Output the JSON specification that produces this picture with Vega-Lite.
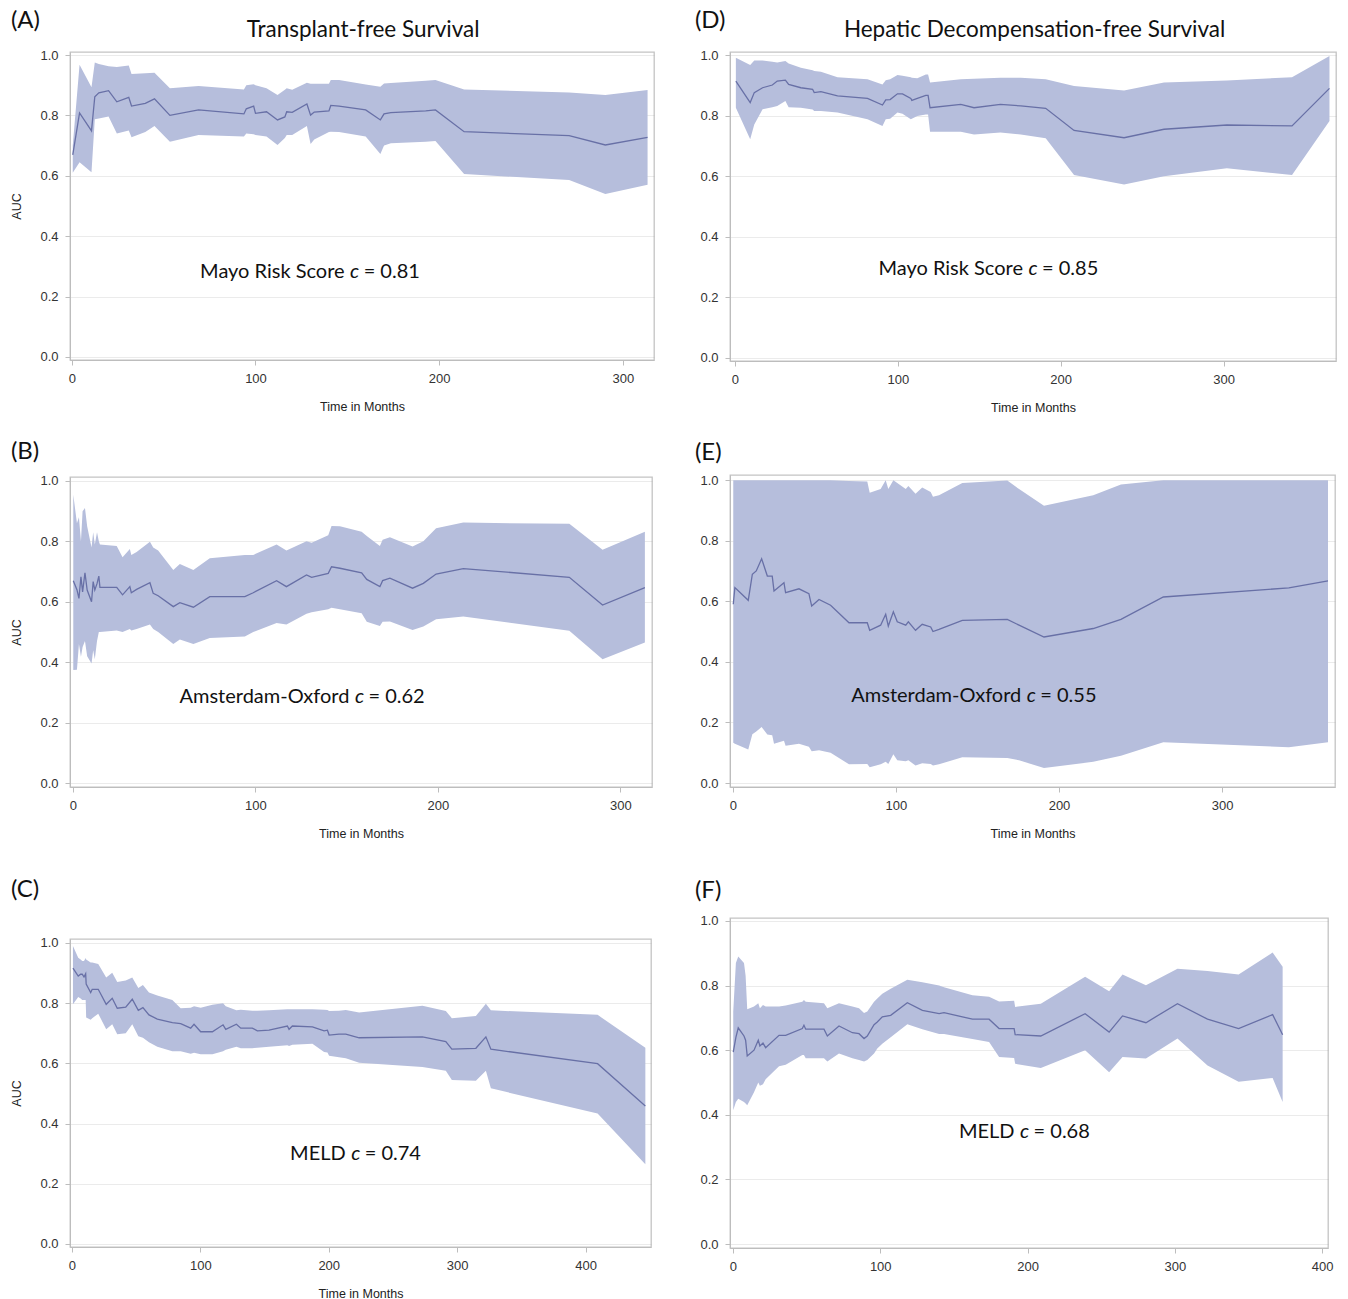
{
"$schema": "https://vega.github.io/schema/vega-lite/v6.json",
"padding": {"left": 10, "top": 8, "right": 5, "bottom": 2},
"background": "white",
"config": {
 "view": {"stroke": "#c4c4c4", "strokeWidth": 1.3},
 "axis": {"domainColor": "#bdbdbd", "tickColor": "#bdbdbd", "gridColor": "#9a9a9a", "gridOpacity": 0.2, "labelFont": "Liberation Sans", "labelFontSize": 13, "labelColor": "#333333", "titleFont": "Liberation Sans", "titleFontSize": 12.5, "titleFontWeight": "normal", "titleColor": "#222222", "tickSize": 5, "zindex": 1},
 "axisX": {"grid": false, "labelPadding": 7, "titlePadding": 15},
 "axisY": {"labelPadding": 7, "titlePadding": 16},
 "title": {"font": "Lato", "fontSize": 24, "fontWeight": "normal", "color": "#111111", "anchor": "start", "frame": "bounds"},
 "text": {"font": "Lato", "fontSize": 20, "color": "#111111"}
},
"datasets": {
 "A": [
  {"t":0.5,"auc":0.669,"lo":0.61,"hi":0.70},{"t":4.2,"auc":0.808,"lo":0.645,"hi":0.968},{"t":10.7,"auc":0.749,"lo":0.612,"hi":0.893},{"t":12.5,"auc":0.862,"lo":0.787,"hi":0.975},{"t":14.7,"auc":0.875,"lo":0.79,"hi":0.97},{"t":20,"auc":0.882,"lo":0.796,"hi":0.963},{"t":24.5,"auc":0.845,"lo":0.74,"hi":0.96},{"t":31,"auc":0.86,"lo":0.75,"hi":0.965},{"t":32.5,"auc":0.831,"lo":0.728,"hi":0.937},{"t":40,"auc":0.84,"lo":0.745,"hi":0.94},{"t":45,"auc":0.855,"lo":0.765,"hi":0.941},{"t":53.4,"auc":0.80,"lo":0.713,"hi":0.89},{"t":69,"auc":0.818,"lo":0.735,"hi":0.897},{"t":93.7,"auc":0.805,"lo":0.73,"hi":0.886},{"t":95,"auc":0.822,"lo":0.74,"hi":0.90},{"t":99,"auc":0.831,"lo":0.738,"hi":0.903},{"t":100,"auc":0.807,"lo":0.735,"hi":0.90},{"t":106,"auc":0.812,"lo":0.73,"hi":0.89},{"t":112,"auc":0.785,"lo":0.702,"hi":0.868},{"t":116,"auc":0.795,"lo":0.725,"hi":0.885},{"t":117,"auc":0.812,"lo":0.735,"hi":0.89},{"t":120,"auc":0.81,"lo":0.735,"hi":0.885},{"t":128,"auc":0.838,"lo":0.765,"hi":0.908},{"t":130,"auc":0.801,"lo":0.705,"hi":0.905},{"t":132,"auc":0.811,"lo":0.72,"hi":0.905},{"t":140,"auc":0.815,"lo":0.745,"hi":0.905},{"t":141,"auc":0.833,"lo":0.746,"hi":0.917},{"t":145.5,"auc":0.831,"lo":0.745,"hi":0.917},{"t":160,"auc":0.818,"lo":0.73,"hi":0.902},{"t":168,"auc":0.785,"lo":0.672,"hi":0.895},{"t":170,"auc":0.805,"lo":0.70,"hi":0.906},{"t":173.7,"auc":0.809,"lo":0.708,"hi":0.907},{"t":192.7,"auc":0.815,"lo":0.713,"hi":0.915},{"t":198,"auc":0.818,"lo":0.715,"hi":0.917},{"t":213.6,"auc":0.746,"lo":0.606,"hi":0.886},{"t":270.8,"auc":0.733,"lo":0.586,"hi":0.876},{"t":290.5,"auc":0.702,"lo":0.54,"hi":0.868},{"t":313.5,"auc":0.727,"lo":0.57,"hi":0.884}
 ],
 "D": [
  {"t":0.6,"auc":0.914,"lo":0.826,"hi":0.991},{"t":9.4,"auc":0.843,"lo":0.722,"hi":0.967},{"t":11.9,"auc":0.876,"lo":0.771,"hi":0.982},{"t":17,"auc":0.892,"lo":0.821,"hi":0.982},{"t":23,"auc":0.901,"lo":0.828,"hi":0.978},{"t":26,"auc":0.914,"lo":0.832,"hi":0.975},{"t":31,"auc":0.917,"lo":0.848,"hi":0.98},{"t":33,"auc":0.903,"lo":0.828,"hi":0.972},{"t":40.5,"auc":0.892,"lo":0.826,"hi":0.958},{"t":47.7,"auc":0.887,"lo":0.82,"hi":0.95},{"t":48.7,"auc":0.876,"lo":0.815,"hi":0.947},{"t":52.8,"auc":0.879,"lo":0.815,"hi":0.945},{"t":63,"auc":0.865,"lo":0.81,"hi":0.927},{"t":81.4,"auc":0.857,"lo":0.788,"hi":0.92},{"t":90.6,"auc":0.835,"lo":0.766,"hi":0.903},{"t":92.6,"auc":0.852,"lo":0.788,"hi":0.917},{"t":95.3,"auc":0.853,"lo":0.79,"hi":0.92},{"t":99.8,"auc":0.872,"lo":0.81,"hi":0.934},{"t":102.9,"auc":0.872,"lo":0.806,"hi":0.932},{"t":108,"auc":0.857,"lo":0.788,"hi":0.927},{"t":108.6,"auc":0.85,"lo":0.79,"hi":0.925},{"t":112,"auc":0.857,"lo":0.799,"hi":0.923},{"t":117.2,"auc":0.867,"lo":0.804,"hi":0.936},{"t":118.6,"auc":0.867,"lo":0.804,"hi":0.936},{"t":119.8,"auc":0.826,"lo":0.747,"hi":0.909},{"t":138.7,"auc":0.837,"lo":0.747,"hi":0.92},{"t":146.8,"auc":0.826,"lo":0.738,"hi":0.922},{"t":163,"auc":0.837,"lo":0.744,"hi":0.925},{"t":175.5,"auc":0.832,"lo":0.738,"hi":0.925},{"t":190.8,"auc":0.824,"lo":0.725,"hi":0.92},{"t":208.2,"auc":0.751,"lo":0.604,"hi":0.898},{"t":238.9,"auc":0.727,"lo":0.573,"hi":0.883},{"t":263.4,"auc":0.755,"lo":0.60,"hi":0.909},{"t":302,"auc":0.769,"lo":0.626,"hi":0.916},{"t":342,"auc":0.766,"lo":0.604,"hi":0.927},{"t":365,"auc":0.89,"lo":0.782,"hi":0.997}
 ],
 "B": [
  {"t":0.2,"auc":0.67,"lo":0.374,"hi":0.954},{"t":2.2,"auc":0.64,"lo":0.375,"hi":0.86},{"t":3.3,"auc":0.611,"lo":0.46,"hi":0.88},{"t":4.4,"auc":0.683,"lo":0.418,"hi":0.80},{"t":5.3,"auc":0.633,"lo":0.45,"hi":0.90},{"t":6.6,"auc":0.696,"lo":0.47,"hi":0.91},{"t":7.8,"auc":0.639,"lo":0.42,"hi":0.85},{"t":10.2,"auc":0.60,"lo":0.396,"hi":0.78},{"t":11.1,"auc":0.667,"lo":0.44,"hi":0.83},{"t":12,"auc":0.639,"lo":0.41,"hi":0.79},{"t":13.2,"auc":0.66,"lo":0.47,"hi":0.83},{"t":14.2,"auc":0.685,"lo":0.50,"hi":0.80},{"t":14.8,"auc":0.648,"lo":0.50,"hi":0.79},{"t":24,"auc":0.648,"lo":0.505,"hi":0.785},{"t":27.2,"auc":0.623,"lo":0.50,"hi":0.747},{"t":31.2,"auc":0.65,"lo":0.51,"hi":0.775},{"t":32,"auc":0.63,"lo":0.505,"hi":0.755},{"t":34.9,"auc":0.641,"lo":0.51,"hi":0.765},{"t":42.2,"auc":0.663,"lo":0.525,"hi":0.799},{"t":44,"auc":0.628,"lo":0.51,"hi":0.78},{"t":46.7,"auc":0.62,"lo":0.50,"hi":0.77},{"t":55,"auc":0.584,"lo":0.46,"hi":0.705},{"t":58.6,"auc":0.597,"lo":0.475,"hi":0.725},{"t":66,"auc":0.582,"lo":0.46,"hi":0.705},{"t":75,"auc":0.617,"lo":0.48,"hi":0.744},{"t":94.2,"auc":0.617,"lo":0.485,"hi":0.755},{"t":98.8,"auc":0.63,"lo":0.50,"hi":0.755},{"t":111.6,"auc":0.67,"lo":0.53,"hi":0.79},{"t":117,"auc":0.65,"lo":0.525,"hi":0.77},{"t":128,"auc":0.689,"lo":0.56,"hi":0.80},{"t":130.8,"auc":0.681,"lo":0.565,"hi":0.795},{"t":139.9,"auc":0.694,"lo":0.575,"hi":0.82},{"t":141.7,"auc":0.716,"lo":0.58,"hi":0.851},{"t":146.3,"auc":0.711,"lo":0.575,"hi":0.85},{"t":158.2,"auc":0.696,"lo":0.562,"hi":0.832},{"t":161,"auc":0.674,"lo":0.534,"hi":0.818},{"t":168.2,"auc":0.65,"lo":0.52,"hi":0.785},{"t":169.7,"auc":0.67,"lo":0.534,"hi":0.805},{"t":173.7,"auc":0.678,"lo":0.535,"hi":0.814},{"t":186.1,"auc":0.645,"lo":0.507,"hi":0.783},{"t":192,"auc":0.661,"lo":0.518,"hi":0.80},{"t":199,"auc":0.692,"lo":0.542,"hi":0.843},{"t":213.9,"auc":0.71,"lo":0.551,"hi":0.862},{"t":272,"auc":0.681,"lo":0.504,"hi":0.858},{"t":290.2,"auc":0.589,"lo":0.41,"hi":0.772},{"t":313.4,"auc":0.647,"lo":0.465,"hi":0.832}
 ],
 "E": [
  {"t":0.2,"auc":0.59,"lo":0.133,"hi":0.999},{"t":1.2,"auc":0.645,"lo":0.13,"hi":0.999},{"t":9.4,"auc":0.603,"lo":0.111,"hi":0.999},{"t":11.9,"auc":0.689,"lo":0.161,"hi":0.999},{"t":14.3,"auc":0.70,"lo":0.17,"hi":0.999},{"t":17.6,"auc":0.74,"lo":0.185,"hi":0.999},{"t":21.1,"auc":0.683,"lo":0.16,"hi":0.999},{"t":24.1,"auc":0.683,"lo":0.158,"hi":0.999},{"t":25.2,"auc":0.634,"lo":0.13,"hi":0.999},{"t":31.3,"auc":0.661,"lo":0.14,"hi":0.999},{"t":32.3,"auc":0.628,"lo":0.123,"hi":0.999},{"t":40.5,"auc":0.641,"lo":0.13,"hi":0.999},{"t":46.6,"auc":0.625,"lo":0.12,"hi":0.999},{"t":48.3,"auc":0.584,"lo":0.105,"hi":0.999},{"t":52.8,"auc":0.606,"lo":0.108,"hi":0.999},{"t":59.9,"auc":0.587,"lo":0.10,"hi":0.999},{"t":71.2,"auc":0.529,"lo":0.062,"hi":0.997},{"t":82.4,"auc":0.529,"lo":0.063,"hi":0.995},{"t":83.9,"auc":0.504,"lo":0.052,"hi":0.958},{"t":90.6,"auc":0.521,"lo":0.062,"hi":0.97},{"t":93.7,"auc":0.557,"lo":0.07,"hi":0.999},{"t":95.3,"auc":0.518,"lo":0.063,"hi":0.97},{"t":98.4,"auc":0.565,"lo":0.095,"hi":0.999},{"t":100.8,"auc":0.532,"lo":0.075,"hi":0.99},{"t":106,"auc":0.521,"lo":0.072,"hi":0.97},{"t":107.6,"auc":0.532,"lo":0.075,"hi":0.98},{"t":112,"auc":0.504,"lo":0.058,"hi":0.955},{"t":116.1,"auc":0.524,"lo":0.065,"hi":0.975},{"t":121.3,"auc":0.515,"lo":0.063,"hi":0.96},{"t":122.7,"auc":0.50,"lo":0.058,"hi":0.945},{"t":126.4,"auc":0.507,"lo":0.062,"hi":0.95},{"t":140.7,"auc":0.537,"lo":0.085,"hi":0.99},{"t":168.3,"auc":0.54,"lo":0.083,"hi":0.998},{"t":175.5,"auc":0.521,"lo":0.075,"hi":0.97},{"t":190.8,"auc":0.482,"lo":0.05,"hi":0.915},{"t":221,"auc":0.51,"lo":0.07,"hi":0.95},{"t":238,"auc":0.54,"lo":0.09,"hi":0.985},{"t":264,"auc":0.614,"lo":0.135,"hi":0.999},{"t":341,"auc":0.644,"lo":0.118,"hi":0.999},{"t":365,"auc":0.667,"lo":0.135,"hi":0.999}
 ],
 "C": [
  {"t":0.8,"auc":0.916,"lo":0.796,"hi":0.99},{"t":4.9,"auc":0.89,"lo":0.82,"hi":0.951},{"t":6.8,"auc":0.896,"lo":0.815,"hi":0.945},{"t":8,"auc":0.896,"lo":0.81,"hi":0.94},{"t":9.4,"auc":0.887,"lo":0.81,"hi":0.94},{"t":10.7,"auc":0.898,"lo":0.81,"hi":0.95},{"t":11.1,"auc":0.863,"lo":0.752,"hi":0.945},{"t":14.6,"auc":0.835,"lo":0.745,"hi":0.935},{"t":15.8,"auc":0.846,"lo":0.75,"hi":0.935},{"t":20.5,"auc":0.846,"lo":0.765,"hi":0.93},{"t":26.7,"auc":0.796,"lo":0.713,"hi":0.885},{"t":31.4,"auc":0.816,"lo":0.73,"hi":0.901},{"t":35.3,"auc":0.783,"lo":0.697,"hi":0.87},{"t":41.9,"auc":0.787,"lo":0.70,"hi":0.875},{"t":47,"auc":0.813,"lo":0.73,"hi":0.885},{"t":51.7,"auc":0.776,"lo":0.69,"hi":0.85},{"t":55.3,"auc":0.785,"lo":0.685,"hi":0.86},{"t":60,"auc":0.761,"lo":0.67,"hi":0.835},{"t":66.5,"auc":0.747,"lo":0.655,"hi":0.825},{"t":78.2,"auc":0.735,"lo":0.64,"hi":0.81},{"t":84.7,"auc":0.732,"lo":0.64,"hi":0.783},{"t":92.5,"auc":0.717,"lo":0.632,"hi":0.785},{"t":95.1,"auc":0.73,"lo":0.635,"hi":0.79},{"t":100.3,"auc":0.705,"lo":0.63,"hi":0.785},{"t":109.4,"auc":0.705,"lo":0.63,"hi":0.795},{"t":117.7,"auc":0.728,"lo":0.64,"hi":0.80},{"t":119.8,"auc":0.713,"lo":0.645,"hi":0.79},{"t":128.1,"auc":0.73,"lo":0.655,"hi":0.776},{"t":131.5,"auc":0.717,"lo":0.65,"hi":0.778},{"t":140.5,"auc":0.717,"lo":0.65,"hi":0.775},{"t":144.4,"auc":0.708,"lo":0.652,"hi":0.775},{"t":153.5,"auc":0.71,"lo":0.655,"hi":0.776},{"t":167.8,"auc":0.724,"lo":0.66,"hi":0.78},{"t":169.1,"auc":0.713,"lo":0.658,"hi":0.78},{"t":171.7,"auc":0.724,"lo":0.662,"hi":0.78},{"t":187.3,"auc":0.721,"lo":0.665,"hi":0.78},{"t":196.4,"auc":0.708,"lo":0.638,"hi":0.778},{"t":199,"auc":0.71,"lo":0.636,"hi":0.777},{"t":200.3,"auc":0.694,"lo":0.625,"hi":0.774},{"t":208,"auc":0.697,"lo":0.62,"hi":0.775},{"t":213.3,"auc":0.697,"lo":0.617,"hi":0.777},{"t":223.7,"auc":0.685,"lo":0.602,"hi":0.769},{"t":273,"auc":0.688,"lo":0.588,"hi":0.791},{"t":291.2,"auc":0.672,"lo":0.575,"hi":0.774},{"t":295.9,"auc":0.647,"lo":0.545,"hi":0.75},{"t":314.6,"auc":0.65,"lo":0.542,"hi":0.757},{"t":322.4,"auc":0.688,"lo":0.575,"hi":0.798},{"t":326.3,"auc":0.647,"lo":0.517,"hi":0.776},{"t":409.4,"auc":0.599,"lo":0.433,"hi":0.761},{"t":446.6,"auc":0.458,"lo":0.265,"hi":0.652}
 ],
 "F": [
  {"t":0.2,"auc":0.594,"lo":0.414,"hi":0.72},{"t":2,"auc":0.64,"lo":0.44,"hi":0.87},{"t":3.6,"auc":0.669,"lo":0.45,"hi":0.89},{"t":7.5,"auc":0.644,"lo":0.44,"hi":0.87},{"t":8.6,"auc":0.631,"lo":0.435,"hi":0.83},{"t":9.7,"auc":0.582,"lo":0.43,"hi":0.727},{"t":14.3,"auc":0.60,"lo":0.47,"hi":0.735},{"t":17.2,"auc":0.631,"lo":0.50,"hi":0.745},{"t":18.3,"auc":0.613,"lo":0.49,"hi":0.73},{"t":20.4,"auc":0.622,"lo":0.495,"hi":0.74},{"t":22.2,"auc":0.608,"lo":0.51,"hi":0.735},{"t":31.3,"auc":0.646,"lo":0.55,"hi":0.735},{"t":35.8,"auc":0.646,"lo":0.555,"hi":0.738},{"t":47.1,"auc":0.667,"lo":0.585,"hi":0.75},{"t":48.2,"auc":0.677,"lo":0.585,"hi":0.755},{"t":49.4,"auc":0.665,"lo":0.575,"hi":0.75},{"t":61.8,"auc":0.665,"lo":0.575,"hi":0.745},{"t":64.1,"auc":0.644,"lo":0.565,"hi":0.73},{"t":72,"auc":0.675,"lo":0.59,"hi":0.745},{"t":81.1,"auc":0.654,"lo":0.575,"hi":0.735},{"t":85.6,"auc":0.651,"lo":0.57,"hi":0.73},{"t":89,"auc":0.636,"lo":0.565,"hi":0.715},{"t":91.2,"auc":0.644,"lo":0.57,"hi":0.72},{"t":95.8,"auc":0.679,"lo":0.59,"hi":0.75},{"t":98,"auc":0.687,"lo":0.605,"hi":0.76},{"t":101.4,"auc":0.703,"lo":0.62,"hi":0.775},{"t":107.1,"auc":0.708,"lo":0.64,"hi":0.79},{"t":118.4,"auc":0.747,"lo":0.68,"hi":0.818},{"t":128.6,"auc":0.723,"lo":0.665,"hi":0.81},{"t":140,"auc":0.713,"lo":0.65,"hi":0.80},{"t":143.3,"auc":0.716,"lo":0.65,"hi":0.795},{"t":162.6,"auc":0.696,"lo":0.635,"hi":0.77},{"t":173.9,"auc":0.696,"lo":0.625,"hi":0.765},{"t":180.7,"auc":0.667,"lo":0.579,"hi":0.751},{"t":190.9,"auc":0.667,"lo":0.576,"hi":0.753},{"t":191.6,"auc":0.648,"lo":0.558,"hi":0.734},{"t":209,"auc":0.644,"lo":0.545,"hi":0.744},{"t":239.1,"auc":0.713,"lo":0.60,"hi":0.827},{"t":255.4,"auc":0.656,"lo":0.532,"hi":0.782},{"t":264.5,"auc":0.706,"lo":0.579,"hi":0.834},{"t":280.4,"auc":0.685,"lo":0.574,"hi":0.801},{"t":301.8,"auc":0.744,"lo":0.636,"hi":0.852},{"t":322.2,"auc":0.696,"lo":0.553,"hi":0.845},{"t":343.3,"auc":0.667,"lo":0.502,"hi":0.834},{"t":366.4,"auc":0.71,"lo":0.514,"hi":0.902},{"t":373.2,"auc":0.648,"lo":0.44,"hi":0.858}
 ]
},
"hconcat": [
 {"vconcat": [
  {"vconcat": [
   {"width": 584, "height": 308, "title": {"text": "(A)", "offset": -14},
    "layer": [
     {"data": {"name": "A"}, "mark": {"type": "area", "color": "#b6bedc", "opacity": 1},
      "encoding": {"x": {"field": "t", "type": "quantitative", "scale": {"domain": [-1, 317], "nice": false, "zero": false}, "axis": {"values": [0, 100, 200, 300], "title": "Time in Months"}},
       "y": {"field": "lo", "type": "quantitative", "scale": {"domain": [-0.01, 1.01], "nice": false}, "axis": {"values": [0, 0.2, 0.4, 0.6, 0.8, 1], "format": ".1f", "title": "AUC"}},
       "y2": {"field": "hi"}}},
     {"mark": {"type": "rule", "color": "#b8b8b8", "strokeWidth": 1.5}, "encoding": {"y": {"datum": 0.5}}},
     {"data": {"name": "A"}, "mark": {"type": "line", "color": "#6870a6", "strokeWidth": 1.3}, "encoding": {"x": {"field": "t", "type": "quantitative"}, "y": {"field": "auc", "type": "quantitative"}}},
     {"data": {"values": [{"label": "Mayo Risk Score", "val": "= 0.81", "xc": 154, "y": 0.28}]},
      "layer": [
       {"mark": {"type": "text", "align": "right", "dx": -10}, "encoding": {"x": {"field": "xc", "type": "quantitative"}, "y": {"field": "y", "type": "quantitative"}, "text": {"field": "label"}}},
       {"mark": {"type": "text", "align": "center", "fontStyle": "italic"}, "encoding": {"x": {"field": "xc", "type": "quantitative"}, "y": {"field": "y", "type": "quantitative"}, "text": {"value": "c"}}},
       {"mark": {"type": "text", "align": "left", "dx": 9}, "encoding": {"x": {"field": "xc", "type": "quantitative"}, "y": {"field": "y", "type": "quantitative"}, "text": {"field": "val"}}}
      ]},
     {"data": {"values": [{"head": "Transplant-free Survival", "x": 158.6, "y": 1.083}]},
      "mark": {"type": "text", "align": "center", "fontSize": 22.5}, "encoding": {"x": {"field": "x", "type": "quantitative"}, "y": {"field": "y", "type": "quantitative"}, "text": {"field": "head"}}}
    ]},
   {"width": 582, "height": 310, "title": {"text": "(B)", "offset": 11},
    "layer": [
     {"data": {"name": "B"}, "mark": {"type": "area", "color": "#b6bedc", "opacity": 1},
      "encoding": {"x": {"field": "t", "type": "quantitative", "scale": {"domain": [-1.6, 317.3], "nice": false, "zero": false}, "axis": {"values": [0, 100, 200, 300], "title": "Time in Months"}},
       "y": {"field": "lo", "type": "quantitative", "scale": {"domain": [-0.013, 1.013], "nice": false}, "axis": {"values": [0, 0.2, 0.4, 0.6, 0.8, 1], "format": ".1f", "title": "AUC"}},
       "y2": {"field": "hi"}}},
     {"mark": {"type": "rule", "color": "#b8b8b8", "strokeWidth": 1.5}, "encoding": {"y": {"datum": 0.5}}},
     {"data": {"name": "B"}, "mark": {"type": "line", "color": "#6870a6", "strokeWidth": 1.3}, "encoding": {"x": {"field": "t", "type": "quantitative"}, "y": {"field": "auc", "type": "quantitative"}}},
     {"data": {"values": [{"label": "Amsterdam-Oxford", "val": "= 0.62", "xc": 157, "y": 0.285}]},
      "layer": [
       {"mark": {"type": "text", "align": "right", "dx": -10}, "encoding": {"x": {"field": "xc", "type": "quantitative"}, "y": {"field": "y", "type": "quantitative"}, "text": {"field": "label"}}},
       {"mark": {"type": "text", "align": "center", "fontStyle": "italic"}, "encoding": {"x": {"field": "xc", "type": "quantitative"}, "y": {"field": "y", "type": "quantitative"}, "text": {"value": "c"}}},
       {"mark": {"type": "text", "align": "left", "dx": 9}, "encoding": {"x": {"field": "xc", "type": "quantitative"}, "y": {"field": "y", "type": "quantitative"}, "text": {"field": "val"}}}
      ]}
    ]}
  ], "spacing": 25},
  {"width": 581, "height": 308, "title": {"text": "(C)", "offset": 35},
   "layer": [
    {"data": {"name": "C"}, "mark": {"type": "area", "color": "#b6bedc", "opacity": 1},
     "encoding": {"x": {"field": "t", "type": "quantitative", "scale": {"domain": [-1.5, 451], "nice": false, "zero": false}, "axis": {"values": [0, 100, 200, 300, 400], "title": "Time in Months"}},
      "y": {"field": "lo", "type": "quantitative", "scale": {"domain": [-0.01, 1.013], "nice": false}, "axis": {"values": [0, 0.2, 0.4, 0.6, 0.8, 1], "format": ".1f", "title": "AUC"}},
      "y2": {"field": "hi"}}},
    {"mark": {"type": "rule", "color": "#b8b8b8", "strokeWidth": 1.5}, "encoding": {"y": {"datum": 0.5}}},
    {"data": {"name": "C"}, "mark": {"type": "line", "color": "#6870a6", "strokeWidth": 1.3}, "encoding": {"x": {"field": "t", "type": "quantitative"}, "y": {"field": "auc", "type": "quantitative"}}},
    {"data": {"values": [{"label": "MELD", "val": "= 0.74", "xc": 221, "y": 0.30}]},
     "layer": [
      {"mark": {"type": "text", "align": "right", "dx": -10}, "encoding": {"x": {"field": "xc", "type": "quantitative"}, "y": {"field": "y", "type": "quantitative"}, "text": {"field": "label"}}},
      {"mark": {"type": "text", "align": "center", "fontStyle": "italic"}, "encoding": {"x": {"field": "xc", "type": "quantitative"}, "y": {"field": "y", "type": "quantitative"}, "text": {"value": "c"}}},
      {"mark": {"type": "text", "align": "left", "dx": 9}, "encoding": {"x": {"field": "xc", "type": "quantitative"}, "y": {"field": "y", "type": "quantitative"}, "text": {"field": "val"}}}
     ]}
   ]}
 ], "spacing": 36},
 {"vconcat": [
  {"vconcat": [
   {"width": 606, "height": 309, "title": {"text": "(D)", "offset": -14, "dx": -5},
    "layer": [
     {"data": {"name": "D"}, "mark": {"type": "area", "color": "#b6bedc", "opacity": 1},
      "encoding": {"x": {"field": "t", "type": "quantitative", "scale": {"domain": [-3, 369], "nice": false, "zero": false}, "axis": {"values": [0, 100, 200, 300], "title": "Time in Months"}},
       "y": {"field": "lo", "type": "quantitative", "scale": {"domain": [-0.01, 1.01], "nice": false}, "axis": {"values": [0, 0.2, 0.4, 0.6, 0.8, 1], "format": ".1f", "title": null}},
       "y2": {"field": "hi"}}},
     {"mark": {"type": "rule", "color": "#b8b8b8", "strokeWidth": 1.5}, "encoding": {"y": {"datum": 0.5}}},
     {"data": {"name": "D"}, "mark": {"type": "line", "color": "#6870a6", "strokeWidth": 1.3}, "encoding": {"x": {"field": "t", "type": "quantitative"}, "y": {"field": "auc", "type": "quantitative"}}},
     {"data": {"values": [{"label": "Mayo Risk Score", "val": "= 0.85", "xc": 183, "y": 0.294}]},
      "layer": [
       {"mark": {"type": "text", "align": "right", "dx": -10}, "encoding": {"x": {"field": "xc", "type": "quantitative"}, "y": {"field": "y", "type": "quantitative"}, "text": {"field": "label"}}},
       {"mark": {"type": "text", "align": "center", "fontStyle": "italic"}, "encoding": {"x": {"field": "xc", "type": "quantitative"}, "y": {"field": "y", "type": "quantitative"}, "text": {"value": "c"}}},
       {"mark": {"type": "text", "align": "left", "dx": 9}, "encoding": {"x": {"field": "xc", "type": "quantitative"}, "y": {"field": "y", "type": "quantitative"}, "text": {"field": "val"}}}
      ]},
     {"data": {"values": [{"head": "Hepatic Decompensation-free Survival", "x": 184, "y": 1.082}]},
      "mark": {"type": "text", "align": "center", "fontSize": 22.5}, "encoding": {"x": {"field": "x", "type": "quantitative"}, "y": {"field": "y", "type": "quantitative"}, "text": {"field": "head"}}}
    ]},
   {"width": 605, "height": 312, "title": {"text": "(E)", "offset": 9, "dx": -5},
    "layer": [
     {"data": {"name": "E"}, "mark": {"type": "area", "color": "#b6bedc", "opacity": 1},
      "encoding": {"x": {"field": "t", "type": "quantitative", "scale": {"domain": [-1.8, 369.3], "nice": false, "zero": false}, "axis": {"values": [0, 100, 200, 300], "title": "Time in Months"}},
       "y": {"field": "lo", "type": "quantitative", "scale": {"domain": [-0.013, 1.0165], "nice": false}, "axis": {"values": [0, 0.2, 0.4, 0.6, 0.8, 1], "format": ".1f", "title": null}},
       "y2": {"field": "hi"}}},
     {"mark": {"type": "rule", "color": "#b8b8b8", "strokeWidth": 1.5}, "encoding": {"y": {"datum": 0.5}}},
     {"data": {"name": "E"}, "mark": {"type": "line", "color": "#6870a6", "strokeWidth": 1.3}, "encoding": {"x": {"field": "t", "type": "quantitative"}, "y": {"field": "auc", "type": "quantitative"}}},
     {"data": {"values": [{"label": "Amsterdam-Oxford", "val": "= 0.55", "xc": 183, "y": 0.287}]},
      "layer": [
       {"mark": {"type": "text", "align": "right", "dx": -10}, "encoding": {"x": {"field": "xc", "type": "quantitative"}, "y": {"field": "y", "type": "quantitative"}, "text": {"field": "label"}}},
       {"mark": {"type": "text", "align": "center", "fontStyle": "italic"}, "encoding": {"x": {"field": "xc", "type": "quantitative"}, "y": {"field": "y", "type": "quantitative"}, "text": {"value": "c"}}},
       {"mark": {"type": "text", "align": "left", "dx": 9}, "encoding": {"x": {"field": "xc", "type": "quantitative"}, "y": {"field": "y", "type": "quantitative"}, "text": {"field": "val"}}}
      ]}
    ]}
  ], "spacing": 25},
  {"width": 598, "height": 330, "title": {"text": "(F)", "offset": 12, "dx": -5},
   "layer": [
    {"data": {"name": "F"}, "mark": {"type": "area", "color": "#b6bedc", "opacity": 1},
     "encoding": {"x": {"field": "t", "type": "quantitative", "scale": {"domain": [-2, 404], "nice": false, "zero": false}, "axis": {"values": [0, 100, 200, 300, 400], "title": null}},
      "y": {"field": "lo", "type": "quantitative", "scale": {"domain": [-0.012, 1.009], "nice": false}, "axis": {"values": [0, 0.2, 0.4, 0.6, 0.8, 1], "format": ".1f", "title": null}},
      "y2": {"field": "hi"}}},
    {"mark": {"type": "rule", "color": "#b8b8b8", "strokeWidth": 1.5}, "encoding": {"y": {"datum": 0.5}}},
    {"data": {"name": "F"}, "mark": {"type": "line", "color": "#6870a6", "strokeWidth": 1.3}, "encoding": {"x": {"field": "t", "type": "quantitative"}, "y": {"field": "auc", "type": "quantitative"}}},
    {"data": {"values": [{"label": "MELD", "val": "= 0.68", "xc": 198, "y": 0.347}]},
     "layer": [
      {"mark": {"type": "text", "align": "right", "dx": -10}, "encoding": {"x": {"field": "xc", "type": "quantitative"}, "y": {"field": "y", "type": "quantitative"}, "text": {"field": "label"}}},
      {"mark": {"type": "text", "align": "center", "fontStyle": "italic"}, "encoding": {"x": {"field": "xc", "type": "quantitative"}, "y": {"field": "y", "type": "quantitative"}, "text": {"value": "c"}}},
      {"mark": {"type": "text", "align": "left", "dx": 9}, "encoding": {"x": {"field": "xc", "type": "quantitative"}, "y": {"field": "y", "type": "quantitative"}, "text": {"field": "val"}}}
     ]}
   ]}
 ], "spacing": 37}
],
"spacing": 39
}
